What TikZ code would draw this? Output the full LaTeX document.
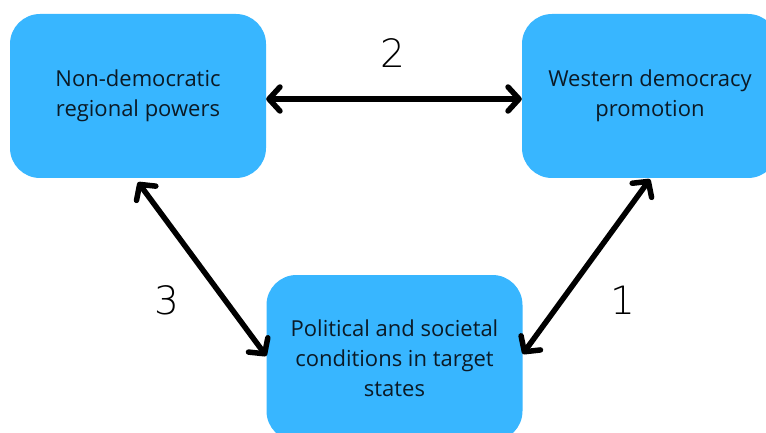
\documentclass[tikz,border=0pt]{standalone}
\usepackage{fontspec}
\setmainfont{Open Sans}
\newfontfamily\numfont{DejaVu Sans ExtraLight}
\usetikzlibrary{arrows.meta}
\definecolor{boxblue}{HTML}{38B6FF}
\definecolor{inkdark}{HTML}{0B1A26}
\tikzset{
  factor/.style={fill=boxblue, rounded corners=30pt, minimum width=256pt, minimum height=164pt,
    align=center, text=inkdark, font=\fontsize{22}{30}\selectfont},
  link/.style={line width=5.5pt, line cap=round,
    {Straight Barb[round,length=11pt,width=24pt]}-{Straight Barb[round,length=11pt,width=24pt]}},
  num/.style={font=\numfont\fontsize{39}{39}\selectfont, text=black}
}
\begin{document}
\begin{tikzpicture}[x=1pt,y=-1pt]
\clip (0,0) rectangle (766,433);

% the three factors
\node[factor] (regional) at (138,96) {Non-democratic\\regional powers};
\node[factor] (western) at (650,96) {Western democracy\\promotion};
\node[factor, minimum height=166pt] (target) at (394.5,358) {Political and societal\\conditions in target\\states};

% the links between them
\draw[link] ([yshift=-3pt]regional.east) -- ([yshift=-3pt]western.west);
\draw[link] ([yshift=-4pt]regional.south) -- ([yshift=2pt]target.west);
\draw[link] ([yshift=-1pt]western.south) -- ([yshift=4pt]target.east);

\foreach \n/\x/\y in {2/393/53,3/167/300,1/623/300}
  \node[num] (num\n) at (\x,\y) {\n};

\end{tikzpicture}
\end{document}
